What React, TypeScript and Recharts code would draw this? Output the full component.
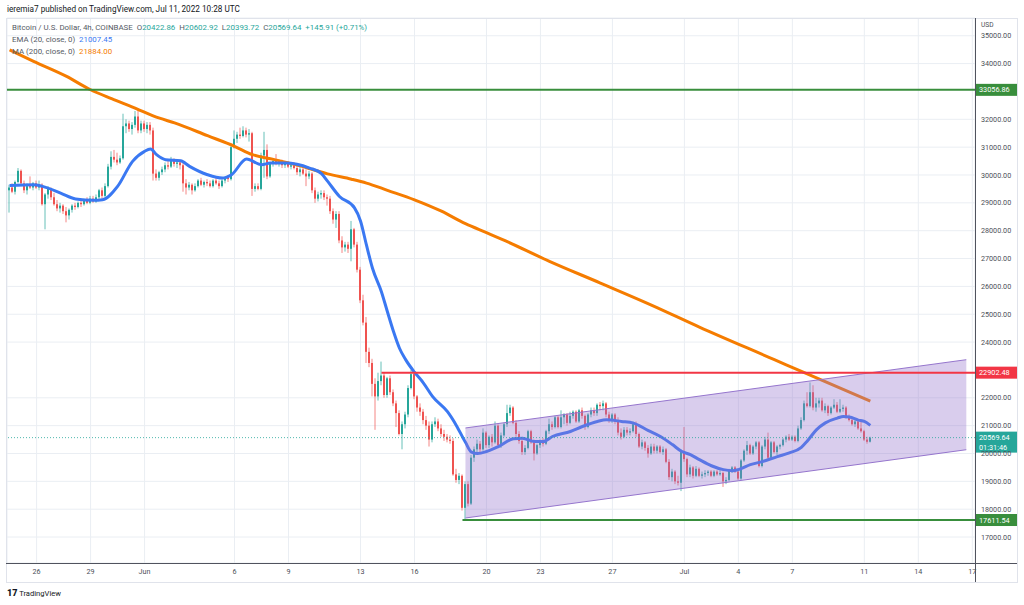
import React from "react";
import {
  ComposedChart,
  Bar,
  Line,
  Area,
  XAxis,
  YAxis,
  CartesianGrid,
  ReferenceLine,
} from "recharts";

const FONT = "Roboto, 'Open Sans', sans-serif";
const UP = "#26a69a";
const DOWN = "#ef5350";
const EMA_COLOR = "#3a78f2";
const MA_COLOR = "#f57c00";
const LEVEL_GREEN = "#388e3c";
const LEVEL_RED = "#f23645";
const CHANNEL = "#9575cd";

// 4h candles [open, high, low, close], index 0 = May 24 12:00
const candlesMay: number[][] = [
  [29450, 29650, 28650, 29550], [29550, 29700, 29350, 29400], [29400, 29800, 29300, 29750],
  [29750, 30250, 29700, 30150], [30150, 30200, 29650, 29700], [29700, 29800, 29350, 29450],
  [29450, 29700, 29300, 29600], [29600, 29950, 29500, 29550], [29550, 29750, 29450, 29700],
  [29700, 29800, 29500, 29550], [29550, 29800, 29450, 29650], [29650, 29700, 28900, 28950],
  [28950, 29350, 28050, 29300], [29300, 29600, 29150, 29500], [29500, 29550, 29100, 29200],
  [29200, 29350, 28900, 28950], [28950, 29100, 28700, 28800], [28800, 29000, 28650, 28900],
  [28900, 28950, 28600, 28700], [28700, 28850, 28300, 28550], [28550, 28800, 28400, 28750],
  [28750, 28950, 28650, 28900], [28900, 29000, 28750, 28850], [28850, 29050, 28800, 29000],
  [29000, 29100, 28850, 28950], [28950, 29150, 28900, 29100], [29100, 29200, 28950, 29000],
  [29000, 29250, 28950, 29150], [29150, 29250, 29000, 29050], [29050, 29300, 29000, 29200],
  [29200, 29500, 29100, 29450], [29450, 29550, 29150, 29250], [29250, 29700, 29200, 29600],
  [29600, 30400, 29550, 30300], [30300, 30850, 30200, 30650], [30650, 30900, 30450, 30550],
  [30550, 30800, 30350, 30450], [30450, 30700, 30400, 30600], [30600, 32200, 30550, 31750],
  [31750, 32000, 31500, 31850], [31850, 31950, 31550, 31650], [31650, 31900, 31450, 31800],
  [31800, 32300, 31700, 32100], [32100, 32350, 31500, 31600], [31600, 31950, 31500, 31850],
];

const candlesJunEarly: number[][] = [
  [31850, 31950, 31550, 31650], [31650, 31900, 31500, 31800], [31800, 31900, 31450, 31600],
  [31600, 31700, 29800, 30050], [30050, 30200, 29800, 29900], [29900, 30150, 29800, 30100],
  [30100, 30300, 30000, 30200], [30200, 30450, 30100, 30350], [30350, 30550, 30200, 30300],
  [30300, 30650, 30250, 30500], [30500, 30600, 30300, 30400], [30400, 30550, 30250, 30450],
  [30450, 30550, 30200, 30350], [30350, 30450, 29400, 29700], [29700, 29850, 29300, 29550],
  [29550, 29750, 29450, 29650], [29650, 29700, 29300, 29450], [29450, 29700, 29400, 29600],
  [29600, 29850, 29550, 29800], [29800, 29900, 29600, 29650], [29650, 29800, 29550, 29750],
  [29750, 29850, 29600, 29700], [29700, 29800, 29550, 29600], [29600, 29850, 29550, 29800],
  [29800, 29900, 29650, 29700], [29700, 29800, 29500, 29600], [29600, 29850, 29550, 29800],
  [29800, 29950, 29700, 29900], [29900, 30000, 29750, 29850], [29850, 31100, 29800, 31000],
  [31000, 31600, 30950, 31300], [31300, 31550, 31150, 31450], [31450, 31700, 31300, 31400],
  [31400, 31750, 31350, 31600], [31600, 31700, 31350, 31450], [31450, 31650, 31200, 31500],
  [31500, 31550, 29250, 29500], [29500, 29700, 29400, 29600], [29600, 29700, 29450, 29500],
  [29500, 30800, 29450, 30700], [30700, 31550, 29900, 30900], [30900, 31100, 29850, 29950],
  [29950, 30450, 29900, 30400], [30400, 30600, 30300, 30500], [30500, 30750, 30350, 30400],
  [30400, 30550, 30300, 30450], [30450, 30550, 30250, 30350], [30350, 30500, 30250, 30400],
  [30400, 30500, 30250, 30300], [30300, 30450, 30200, 30350], [30350, 30450, 30200, 30250],
  [30250, 30400, 30000, 30100], [30100, 30300, 29950, 30200], [30200, 30350, 30000, 30050],
  [30050, 30200, 29600, 29950], [29950, 30150, 29850, 30050], [30050, 30100, 29350, 29450],
  [29450, 29550, 29000, 29150], [29150, 29400, 29050, 29300], [29300, 29450, 29150, 29350],
];

const candlesJunMid: number[][] = [
  [29350, 29450, 29100, 29200], [29200, 29300, 28900, 29150], [29150, 29250, 28600, 28700],
  [28700, 28800, 28250, 28400], [28400, 28700, 28100, 28600], [28600, 28700, 27550, 27650],
  [27650, 27800, 27200, 27400], [27400, 27600, 27250, 27500], [27500, 27600, 27200, 27350],
  [27350, 28350, 26900, 28050], [28050, 28100, 27400, 27500], [27500, 27600, 26500, 26600],
  [26600, 26700, 25400, 25500], [25500, 25700, 24600, 24700], [24700, 24900, 23250, 23650],
  [23650, 23800, 23100, 23250], [23250, 23400, 22050, 22500], [22500, 22700, 20850, 22050],
  [22050, 22900, 21900, 22600], [22600, 23300, 22450, 22800], [22800, 22900, 22000, 22100],
  [22100, 22750, 22000, 22700], [22700, 22800, 22100, 22200], [22200, 22300, 21700, 21800],
  [21800, 21900, 20950, 21450], [21450, 21550, 20650, 20700], [20700, 21150, 20150, 21050],
  [21050, 21500, 20900, 21400], [21400, 22450, 21300, 22350], [22350, 23000, 22300, 22850],
  [22850, 22950, 21950, 22050], [22050, 22100, 21500, 21650], [21650, 21800, 21350, 21500],
  [21500, 21600, 21050, 21200], [21200, 21350, 20850, 21000], [21000, 21150, 20250, 20500],
  [20500, 21150, 20400, 21050], [21050, 21300, 20950, 21150], [21150, 21250, 20800, 20900],
  [20900, 21050, 20600, 20700], [20700, 20850, 20450, 20600], [20600, 20700, 20400, 20500],
  [20500, 20650, 20350, 20450], [20450, 20550, 19200, 19250], [19250, 19450, 18950, 19050],
  [19050, 19300, 18900, 19200], [19200, 19250, 17950, 18050], [18050, 19000, 17620, 18900],
  [18900, 19000, 18100, 18200], [18200, 19950, 18150, 19850], [19850, 20250, 19700, 20150],
  [20150, 20500, 20000, 20350], [20350, 20450, 20050, 20150], [20150, 20900, 20100, 20750],
  [20750, 20800, 20200, 20300], [20300, 20650, 20200, 20600], [20600, 20700, 20250, 20400],
  [20400, 21150, 20350, 21000], [21000, 21050, 20200, 20300], [20300, 20750, 20200, 20650],
];

const candlesJunLate: number[][] = [
  [20650, 21100, 20600, 21050], [21050, 21750, 20950, 21450], [21450, 21750, 21350, 21650],
  [21650, 21700, 21050, 21100], [21100, 21200, 20600, 20700], [20700, 20800, 20350, 20450],
  [20450, 20550, 19950, 20050], [20050, 20300, 19950, 20200], [20200, 20850, 20150, 20800],
  [20800, 20850, 20350, 20400], [20400, 20500, 19750, 20000], [20000, 20350, 19950, 20300],
  [20300, 20500, 20200, 20450], [20450, 20550, 20250, 20350], [20350, 20850, 20300, 20800],
  [20800, 21250, 20700, 21050], [21050, 21150, 20850, 20950], [20950, 21350, 20900, 21300],
  [21300, 21350, 20900, 20950], [20950, 21550, 20900, 21300], [21300, 21450, 21050, 21400],
  [21400, 21450, 21000, 21100], [21100, 21500, 21050, 21350], [21350, 21550, 21250, 21500],
  [21500, 21550, 21100, 21150], [21150, 21600, 21100, 21550], [21550, 21650, 21250, 21350],
  [21350, 21400, 20850, 20950], [20950, 21450, 20900, 21400], [21400, 21650, 21300, 21550],
  [21550, 21650, 21350, 21450], [21450, 21800, 21350, 21750], [21750, 21850, 21550, 21700],
  [21700, 21900, 21550, 21800], [21800, 21850, 21300, 21400], [21400, 21500, 21100, 21200],
  [21200, 21450, 21100, 21400], [21400, 21450, 21050, 21150], [21150, 21300, 20650, 20750],
  [20750, 20900, 20500, 20600], [20600, 20950, 20550, 20850], [20850, 20950, 20650, 20750],
  [20750, 20900, 20650, 20800], [20800, 21150, 20750, 21050], [21050, 21150, 20600, 20700],
  [20700, 20750, 20200, 20250], [20250, 20500, 20150, 20400], [20400, 20450, 20100, 20200],
  [20200, 20300, 19850, 20000], [20000, 20350, 19950, 20250], [20250, 20350, 20000, 20100],
  [20100, 20300, 20000, 20250], [20250, 20300, 20000, 20050], [20050, 20250, 19950, 20150],
  [20150, 20200, 19650, 19700], [19700, 19800, 19050, 19150], [19150, 19450, 19000, 19350],
  [19350, 19400, 18900, 19000], [19000, 19200, 18850, 18950], [18950, 20150, 18650, 20050],
];

const candlesJul: number[][] = [
  [20050, 20950, 19700, 19800], [19800, 19850, 19150, 19250], [19250, 19600, 19150, 19500],
  [19500, 19550, 19100, 19200], [19200, 19550, 19150, 19450], [19450, 19500, 19150, 19200],
  [19200, 19350, 19100, 19250], [19250, 19400, 19150, 19300], [19300, 19400, 19200, 19350],
  [19350, 19400, 19150, 19200], [19200, 19400, 19150, 19350], [19350, 19400, 19200, 19250],
  [19250, 19400, 19200, 19300], [19300, 19350, 18800, 19000], [19000, 19150, 18900, 19050],
  [19050, 19450, 19000, 19400], [19400, 19550, 19300, 19500], [19500, 19550, 19300, 19350],
  [19350, 19400, 19050, 19100], [19100, 19800, 19050, 19750], [19750, 20150, 19700, 20100],
  [20100, 20450, 19950, 20300], [20300, 20350, 19950, 20000], [20000, 20300, 19950, 20250],
  [20250, 20450, 20150, 20400], [20400, 20450, 19500, 19550], [19550, 20300, 19500, 20250],
  [20250, 20600, 20150, 20500], [20500, 20750, 19750, 19850], [19850, 20450, 19800, 20400],
  [20400, 20450, 20000, 20050], [20050, 20300, 19950, 20250], [20250, 20350, 20150, 20300],
  [20300, 20550, 20250, 20500], [20500, 20650, 20400, 20600], [20600, 20700, 20450, 20500],
  [20500, 20650, 20450, 20600], [20600, 20650, 20400, 20450], [20450, 21000, 20400, 20900],
  [20900, 21300, 20850, 21200], [21200, 21900, 21150, 21800], [21800, 22200, 21650, 21700],
  [21700, 22550, 21650, 22200], [22200, 22450, 21550, 21650], [21650, 22000, 21500, 21800],
  [21800, 22000, 21650, 21900], [21900, 22000, 21500, 21550], [21550, 21800, 21450, 21700],
  [21700, 21750, 21350, 21450], [21450, 21700, 21400, 21650], [21650, 21950, 21600, 21750],
  [21750, 21850, 21450, 21500], [21500, 21950, 21450, 21600], [21600, 21750, 21500, 21650],
  [21650, 21700, 21250, 21300], [21300, 21400, 21150, 21200], [21200, 21300, 21000, 21050],
  [21050, 21250, 20950, 21150], [21150, 21200, 20850, 20900], [20900, 21150, 20750, 20800],
  [20800, 20850, 20450, 20500], [20500, 20600, 20350, 20420], [20422.86, 20602.92, 20393.72, 20569.64],
];

// EMA(20) and MA(200): [candle index, price]
const emaPoints: number[][] = [
  [0, 29620], [8, 29650], [11, 29590], [17, 29350], [22, 29140], [28, 29090], [31, 29110],
  [36, 29590], [41, 30490], [45, 30850], [47, 30930], [49, 30730], [52, 30550], [57, 30510],
  [60, 30310], [66, 30010], [71, 29890], [74, 30010], [79, 30570], [84, 30370], [87, 30430],
  [92, 30430], [100, 30250], [104, 30050], [106, 29780], [110, 29230], [115, 28820],
  [117, 28350], [119, 27480], [121, 26650], [124, 25800], [126, 25080], [128, 24380],
  [130, 23780], [132, 23380], [135, 22920], [138, 22530], [141, 22050], [146, 21500],
  [149, 21000], [152, 20400], [154, 20050], [156, 20000], [159, 20070], [163, 20250],
  [168, 20530], [171, 20550], [175, 20430], [178, 20430], [181, 20610], [187, 20790],
  [191, 20970], [196, 21150], [199, 21210], [204, 21150], [208, 21090], [213, 20820],
  [217, 20610], [221, 20320], [224, 20080], [227, 19960], [230, 19780], [234, 19560],
  [238, 19420], [241, 19380], [243, 19420], [247, 19600], [251, 19710], [256, 19890],
  [260, 20020], [264, 20220], [266, 20450], [269, 20850], [272, 21100], [276, 21270],
  [278, 21330], [280, 21310], [283, 21200], [285, 21150], [287, 21007.45],
];

const maPoints: number[][] = [
  [0, 34490], [8, 34080], [19, 33540], [27, 33060], [34, 32740], [41, 32440], [50, 32040],
  [55, 31870], [66, 31410], [75, 31030], [81, 30730], [88, 30560], [95, 30380], [100, 30230],
  [106, 30040], [114, 29850], [119, 29710], [126, 29450], [135, 29110], [144, 28700],
  [152, 28250], [159, 27930], [164, 27700], [180, 26900], [197, 26120], [214, 25330],
  [230, 24540], [255, 23370], [265, 22900], [287, 21884],
];

// ascending channel drawn on the chart: [candle index, lower edge, upper edge]
const channelEdges: number[][] = [
  [152, 17684, 20916],
  [319, 20136, 23368],
];

const lastPrice = 20569.64;
const topResistance = 33056.86;
const resistance = 22902.48;
const support = 17611.54;
const resistanceFrom = 124;
const supportFrom = 151;

const priceTicks = [
  17000, 18000, 19000, 20000, 21000, 22000, 24000, 25000, 26000, 27000, 28000, 29000,
  30000, 31000, 32000, 34000, 35000,
];
const dateTicks = [9, 27, 45, 75, 93, 117, 135, 159, 177, 201, 225, 243, 261, 285, 303, 321];
const dateLabels = ["26", "29", "Jun", "6", "9", "13", "16", "20", "23", "27", "Jul", "4", "7", "11", "14", "17"];

const X_MIN = -0.87;
const X_MAX = 321.9;
const Y_MIN = 16068;
const Y_MAX = 35637;

const rows = [...candlesMay, ...candlesJunEarly, ...candlesJunMid, ...candlesJunLate, ...candlesJul].map(
  ([o, h, l, c], i) => ({ i, o, h, l, c, range: [l, h] })
);
const emaRows = emaPoints.map(([i, v]) => ({ i, ema: v }));
const maRows = maPoints.map(([i, v]) => ({ i, ma: v }));
const channelRows = channelEdges.map(([i, lo, hi]) => ({ i, band: [lo, hi] }));

function Candle(props: any) {
  const { x, y, width, height, payload } = props;
  if (!payload || !isFinite(y) || !isFinite(height)) return null;
  const { o, h, l, c } = payload;
  const span = h - l || 1;
  const py = (v: number) => y + ((h - v) / span) * height;
  const cx = Math.round(x + width / 2 - 1);
  const color = c >= o ? UP : DOWN;
  const top = py(Math.max(o, c));
  const bot = py(Math.min(o, c));
  return (
    <g>
      <line x1={cx + 1} x2={cx + 1} y1={y} y2={y + height} stroke={color} strokeOpacity={0.7} strokeWidth={1} />
      <rect x={cx} y={top} width={2} height={Math.max(1, bot - top)} fill={color} />
    </g>
  );
}

function PriceTag(props: any) {
  const { viewBox, color, lines } = props;
  if (!viewBox) return null;
  const x = viewBox.x + viewBox.width;
  const y = viewBox.y;
  const h = lines.length > 1 ? 21 : 12;
  return (
    <g>
      <rect x={x} y={y - 6} width={42} height={h} fill={color} />
      {lines.map((t: string, k: number) => (
        <text key={k} x={x + 4} y={y + k * 9.5} dy="0.35em" fontSize={7.3} fill="#fff" fontFamily={FONT}>
          {t}
        </text>
      ))}
    </g>
  );
}

function Legend() {
  const gray = "#555a64";
  return (
    <div style={{ position: "absolute", left: 12, top: 22, fontSize: 7.9, lineHeight: "11.8px", color: gray }}>
      <div>
        Bitcoin / U.S. Dollar, 4h, COINBASE&nbsp;&nbsp;O<span style={{ color: UP }}>20422.86</span>&nbsp;&nbsp;H
        <span style={{ color: UP }}>20602.92</span>&nbsp;&nbsp;L<span style={{ color: UP }}>20393.72</span>&nbsp;&nbsp;C
        <span style={{ color: UP }}>20569.64</span>&nbsp;&nbsp;<span style={{ color: UP }}>+145.91 (+0.71%)</span>
      </div>
      <div>
        EMA (20, close, 0)&nbsp;&nbsp;<span style={{ color: EMA_COLOR }}>21007.45</span>
      </div>
      <div>
        MA (200, close, 0)&nbsp;&nbsp;<span style={{ color: MA_COLOR }}>21884.00</span>
      </div>
    </div>
  );
}

export default function App() {
  const axisTick = { fontSize: 7.2, fill: "#4c4f57", fontFamily: FONT };
  return (
    <div style={{ position: "relative", width: 1024, height: 605, background: "#fff", fontFamily: FONT, overflow: "hidden" }}>
      <style>{"body{margin:0}"}</style>
      <ComposedChart width={1024} height={605} data={rows} margin={{ top: 18, right: 7, bottom: 24, left: 7 }}>
        <CartesianGrid stroke="#eaeef3" />
        <XAxis
          dataKey="i"
          type="number"
          domain={[X_MIN, X_MAX]}
          allowDataOverflow
          ticks={dateTicks}
          tickFormatter={(v: number) => dateLabels[dateTicks.indexOf(v)] ?? ""}
          tick={axisTick}
          axisLine={false}
          tickLine={false}
          tickSize={6}
          tickMargin={0}
          height={18}
          interval={0}
        />
        <YAxis
          orientation="right"
          type="number"
          domain={[Y_MIN, Y_MAX]}
          allowDataOverflow
          ticks={priceTicks}
          tickFormatter={(v: number) => v.toFixed(2)}
          tick={axisTick}
          axisLine={false}
          tickLine={false}
          tickSize={6}
          tickMargin={0}
          width={42}
          interval={0}
        />
        <Bar dataKey="range" barSize={2} shape={(p: any) => <Candle {...p} />} isAnimationActive={false} />
        <Line data={maRows} dataKey="ma" type="monotone" stroke={MA_COLOR} strokeWidth={3} dot={false} isAnimationActive={false} />
        <Line data={emaRows} dataKey="ema" type="monotone" stroke={EMA_COLOR} strokeWidth={3} dot={false} isAnimationActive={false} />
        <Area
          data={channelRows}
          dataKey="band"
          type="linear"
          stroke={CHANNEL}
          strokeWidth={1}
          fill={CHANNEL}
          fillOpacity={0.36}
          isAnimationActive={false}
          zIndex={450}
        />
        <ReferenceLine
          y={lastPrice}
          stroke={UP}
          strokeDasharray="1 2"
          strokeOpacity={0.8}
          zIndex={460}
          label={(p: any) => <PriceTag viewBox={p.viewBox} color={UP} lines={["20569.64", "01:31:46"]} />}
        />
        <ReferenceLine
          y={topResistance}
          stroke={LEVEL_GREEN}
          strokeWidth={2}
          zIndex={470}
          label={(p: any) => <PriceTag viewBox={p.viewBox} color={LEVEL_GREEN} lines={["33056.86"]} />}
        />
        <ReferenceLine
          segment={[{ x: resistanceFrom, y: resistance }, { x: X_MAX, y: resistance }]}
          stroke={LEVEL_RED}
          strokeWidth={2}
          zIndex={470}
          label={(p: any) => <PriceTag viewBox={p.viewBox} color={LEVEL_RED} lines={["22902.48"]} />}
        />
        <ReferenceLine
          segment={[{ x: supportFrom, y: support }, { x: X_MAX, y: support }]}
          stroke={LEVEL_GREEN}
          strokeWidth={2}
          zIndex={470}
          label={(p: any) => <PriceTag viewBox={p.viewBox} color={LEVEL_GREEN} lines={["17611.54"]} />}
        />
      </ComposedChart>

      <div style={{ position: "absolute", left: 6, top: 18, width: 1010, height: 563, border: "1px solid #e0e3eb", pointerEvents: "none" }} />
      <div style={{ position: "absolute", left: 6, top: 563, width: 1011, height: 1, background: "#50535e" }} />
      <div style={{ position: "absolute", left: 975, top: 18, width: 1, height: 564, background: "#50535e" }} />
      <div style={{ position: "absolute", left: 981, top: 21, fontSize: 6.6, color: "#4c4f57" }}>USD</div>
      <div style={{ position: "absolute", left: 7, top: 4, fontSize: 8.2, color: "#131722" }}>
        ieremia7 published on TradingView.com, Jul 11, 2022 10:28 UTC
      </div>
      <Legend />
      <div style={{ position: "absolute", left: 7, top: 588, fontSize: 7.6, color: "#131722" }}>
        <span style={{ fontWeight: 900, fontSize: 9 }}>17</span> TradingView
      </div>
    </div>
  );
}
